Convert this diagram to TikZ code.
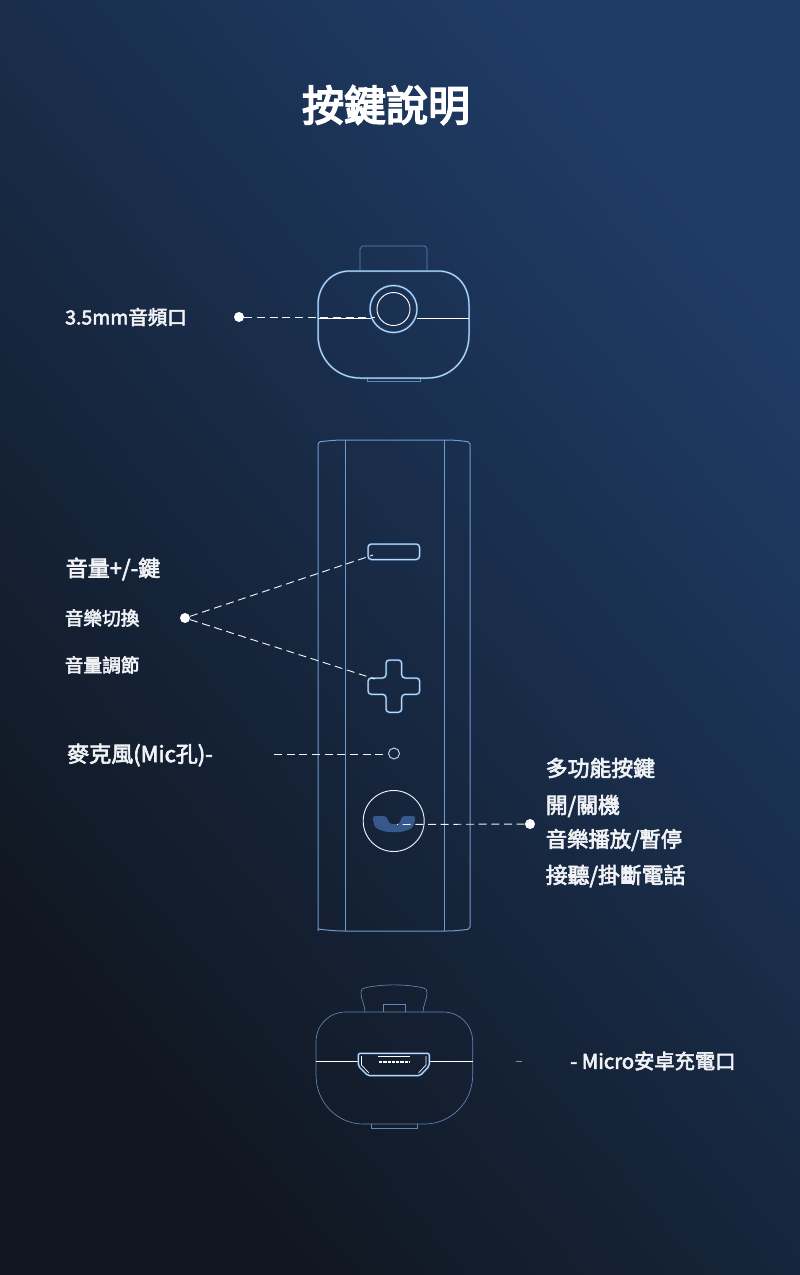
\documentclass[tikz,border=0pt]{standalone}
\usepackage{fontspec}
\setmainfont{Noto Sans CJK TC}
\newfontfamily\labelfont[FakeBold=3]{Noto Sans CJK TC}
\newfontfamily\titlefont[FakeBold=4]{Noto Sans CJK TC}
\definecolor{bgdark}{HTML}{10161F}
\definecolor{bglight}{HTML}{1F3C67}
\definecolor{glowblue}{HTML}{4F8FD0}
\definecolor{bodyblue}{HTML}{6E9BD0}
\definecolor{dimblue}{HTML}{5F86B5}
\definecolor{phoneblue}{HTML}{36588C}
\definecolor{textwhite}{HTML}{F0F2F5}
\tikzset{
	glowline/.style={draw=white!65!glowblue,line width=0.75pt,preaction={draw=glowblue,line width=1.5pt,opacity=0.8}},
	thinline/.style={draw=white,line width=0.7pt},
	bodyline/.style={draw=bodyblue,line width=0.75pt},
	dimline/.style={draw=dimblue,line width=0.5pt},
	leader/.style={draw=white!90!glowblue,line width=0.7pt,dash pattern=on 6pt off 3.5pt},
	dotnode/.style={circle,fill=white,inner sep=0pt,minimum size=7.5pt},
	labeltext/.style={anchor=west,inner sep=0pt,text=textwhite,font=\labelfont\fontsize{#1}{#1}\selectfont},
}
\begin{document}
\begin{tikzpicture}[x=0.75pt,y=-0.75pt]
	%Hintergrund
	\shade[shading=axis,bottom color=bgdark,top color=bglight,shading angle=-50] (0,0) rectangle (800,1275);
	\useasboundingbox (0,0) rectangle (800,1275);
	%Titel
	\node[anchor=center,inner sep=0pt,text=white,font=\titlefont\fontsize{31.5}{31.5}\selectfont] (title) at (386,105) {按鍵說明};
	% Oberseite
	\draw[dimline] (360,271) -- (360,249) -- ++(2,-3) -- (425,246) -- ++(2,3) -- (427,271);
	\draw[dimline] (367,378) -- (367,381) -- (420,381) -- (420,378);
	\draw[glowline] (318,305) .. controls (318,286) and (331,271) .. (350,271) -- (438,271)
		.. controls (457,271) and (469,286) .. (469,305) -- (469,335)
		.. controls (469,360) and (450,378) .. (428,378) -- (360,378)
		.. controls (337,378) and (318,360) .. (318,335) -- cycle;
	\draw[thinline] (318,318) -- (370.5,318);
	\draw[thinline] (417,318) -- (469,318);
	\draw[glowline] (393.5,309) circle [radius=23.5];
	\draw[thinline] (393.5,309) circle [radius=16.5];
	% Mittelteil
	\draw[bodyline,rounded corners=1.5pt] (318,931) -- (318,442) .. controls (326,441) and (335,440) .. (345.5,440) -- (444.5,440)
		.. controls (455,440) and (463,441) .. (470,442) -- (470,929)
		.. controls (463,930) and (455,931) .. (444.5,931) -- (345.5,931) .. controls (335,931) and (326,930) .. (318,929);
	\draw[bodyline,line width=0.6pt] (345.5,440) -- (345.5,931);
	\draw[bodyline,line width=0.6pt] (444.5,440) -- (444.5,931);
	% Tasten
	\draw[glowline,rounded corners=2.5pt] (368,544) rectangle (419.5,559.5);
	\draw[glowline,rounded corners=2.5pt] (386,660) -- (401.7,660) -- (401.7,678) -- (419.7,678) -- (419.7,694.3) -- (401.7,694.3)
		-- (401.7,712.3) -- (386,712.3) -- (386,694.3) -- (368,694.3) -- (368,678) -- (386,678) -- cycle;
	\draw[draw=white!60!glowblue,line width=0.75pt] (394,753.5) circle [radius=5.5];
	\fill[phoneblue,rounded corners=2.5pt] (372,816) -- (387,816) -- (389,824) -- (400,824) -- (401.5,816) -- (416,816) -- (413,828) -- (402,832) -- (386,832) -- (375,828) -- cycle;
	\draw[thinline,draw=white!90!glowblue] (393.7,821) circle [radius=30.5];
	% Unterseite
	\draw[dimline] (365,1012) .. controls (365,1005) and (361,1000) .. (361,993) .. controls (361,989) and (363,988) .. (366,987.5)
		.. controls (385,984) and (403,984) .. (422,987.5) .. controls (425,988) and (427,989) .. (427,993) .. controls (427,1000) and (423,1005) .. (423,1012);
	\draw[dimline] (383,1012) -- (383,1004) -- (405,1004) -- (405,1012);
	\draw[dimline] (371,1124) -- (371,1128) -- (417,1128) -- (417,1124);
	\draw[dimline] (316,1042) .. controls (316,1025) and (329,1012) .. (346,1012) -- (443,1012)
		.. controls (460,1012) and (472.7,1025) .. (472.7,1042) -- (472.7,1075)
		.. controls (472.7,1103) and (450,1124) .. (425,1124) -- (363,1124)
		.. controls (338,1124) and (316,1103) .. (316,1075) -- cycle;
	\draw[thinline] (316,1061.3) -- (358,1061.3);
	\draw[thinline] (430,1061.3) -- (473,1061.3);
	% Micro-Buchse
	\draw[glowline,rounded corners=1.5pt] (358.3,1053.3) -- (429.3,1053.3) -- (429.3,1066) -- (420,1075.7) -- (368,1075.7) -- (358.3,1066) -- cycle;
	\draw[thinline,line width=0.5pt] (361.5,1056) -- (361.5,1065) -- (369,1073);
	\draw[thinline,line width=0.5pt] (426,1056) -- (426,1065) -- (418.5,1073);
	\draw[thinline,line width=0.5pt] (378,1056.7) -- (410,1056.7);
	\draw[thinline,line width=0.9pt,dash pattern=on 2.5pt off 0.7pt] (379,1062) -- (410,1062);
	\draw[draw=white,opacity=0.5,line width=0.5pt] (516,1061) -- (522,1061);
	% Beschriftung links
	\node[labeltext=14.6] (jacklabel) at (65,317) {3.5mm音頻口};
	\node[labeltext=16.5] (volkey) at (65.5,569) {音量+/-鍵};
	\node[labeltext=14] (musicswitch) at (64.5,618) {音樂切換};
	\node[labeltext=14] (voladjust) at (64.5,665) {音量調節};
	\node[labeltext=16.5] (miclabel) at (67,755) {麥克風(Mic孔)-};
	% Beschriftung rechts
	\node[labeltext=16.4] (multikey) at (545.5,768) {多功能按鍵};
	\node[labeltext=16.4] (powerkey) at (545.5,806) {開/關機};
	\node[labeltext=16] (playkey) at (545.5,840) {音樂播放/暫停};
	\node[labeltext=16.4] (callkey) at (545.5,876) {接聽/掛斷電話};
	\node[labeltext=15.2] (usblabel) at (570,1061) {- Micro安卓充電口};
	% Punkte und Linien
	\node[dotnode] (jackdot) at (239,317) {};
	\node[dotnode] (voldot) at (185,618) {};
	\node[dotnode] (calldot) at (530,824) {};
	\coordinate (jackend) at (375,317);
	\coordinate (minusend) at (373,555);
	\coordinate (plusend) at (375,679);
	\coordinate (micstart) at (274,754);
	\coordinate (micend) at (388,754);
	\coordinate (callend) at (397,824.5);
	\draw[leader] (jackdot) -- (jackend);
	\draw[leader] (voldot) -- (minusend);
	\draw[leader] (voldot) -- (plusend);
	\draw[leader] (micstart) -- (micend);
	\draw[leader] (calldot) -- (callend);
\end{tikzpicture}
\end{document}
